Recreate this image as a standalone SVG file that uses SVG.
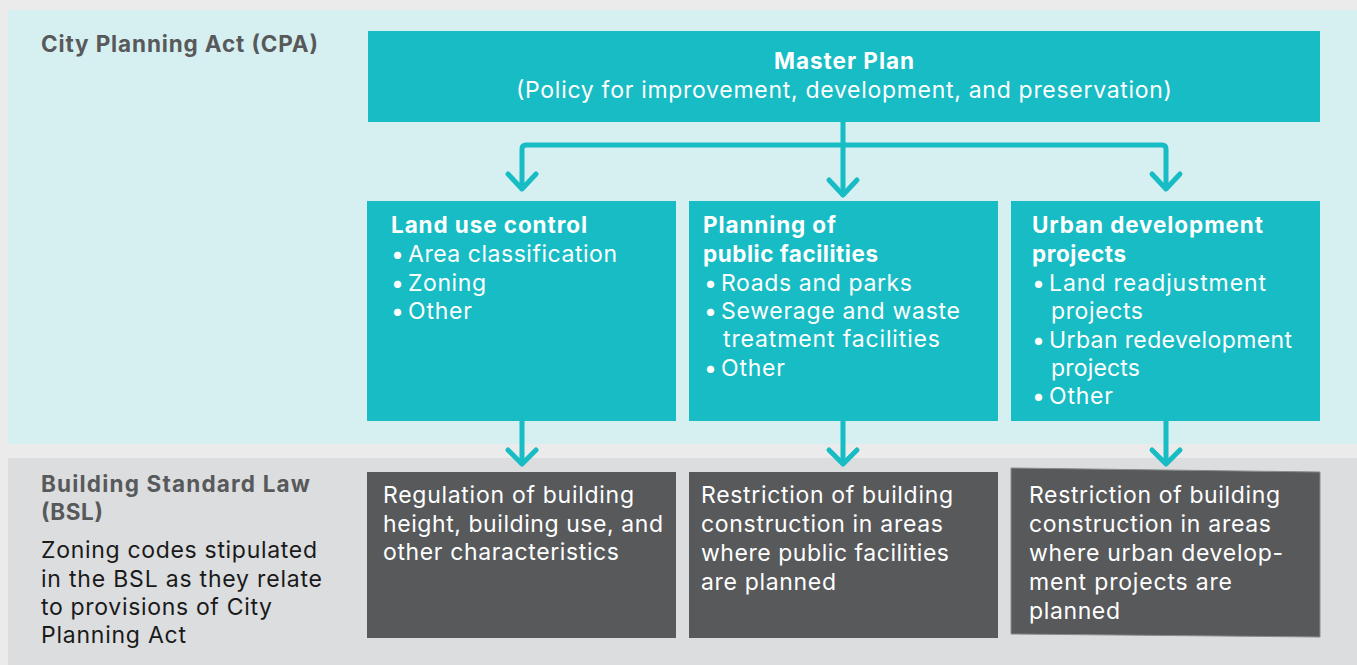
<svg xmlns="http://www.w3.org/2000/svg" width="1357" height="665" viewBox="0 0 1357 665">
<style>
text{font-family:Inter,"Noto Sans","Liberation Sans",sans-serif;font-size:23px}
.b{font-weight:bold;font-size:22.5px}
.w{fill:#ffffff}
.g{fill:#58595b}
.k{fill:#1a1a1a}
.teal{fill:#17bcc4}
.dark{fill:#58595b}
.con{fill:none;stroke:#17bcc4;stroke-width:5;stroke-linecap:round;stroke-linejoin:round}
</style>
<rect x="0" y="0" width="1357" height="665" fill="#ebebeb"/>
<g id="cpa-panel">
<rect x="8" y="10" width="1349" height="434" fill="#d6eff0"/>
<text x="41" y="52" class="b g" textLength="277">City Planning Act (CPA)</text>
</g>
<g id="bsl-panel">
<rect x="8" y="458" width="1349" height="207" fill="#dcdddf"/>
<text x="41" y="492" class="b g" textLength="269">Building Standard Law</text>
<text x="41" y="520" class="b g" textLength="62">(BSL)</text>
<text x="41" y="558" class="k" textLength="276">Zoning codes stipulated</text>
<text x="41" y="587" class="k" textLength="281">in the BSL as they relate</text>
<text x="41" y="615" class="k" textLength="231">to provisions of City</text>
<text x="41" y="643" class="k" textLength="145">Planning Act</text>
</g>
<g id="connectors">
<path class="con" d="M843,122 L843,194"/>
<path class="con" d="M522,188 L522,149 Q522,145 526,145 L1162,145 Q1166,145 1166,149 L1166,188"/>
<polyline class="con" points="508,174 522,189 536,174"/>
<polyline class="con" points="829,180 843,195 857,180"/>
<polyline class="con" points="1152,174 1166,189 1180,174"/>
<path class="con" d="M522,421 L522,463"/>
<path class="con" d="M843,421 L843,463"/>
<path class="con" d="M1166,421 L1166,463"/>
<polyline class="con" points="508,450 522,464 536,450"/>
<polyline class="con" points="829,450 843,464 857,450"/>
<polyline class="con" points="1152,450 1166,464 1180,450"/>
</g>
<g id="master-plan">
<rect x="368" y="31" width="952" height="91" class="teal"/>
<text x="844" y="69" class="b w" text-anchor="middle" textLength="140">Master Plan</text>
<text x="844" y="98" class="w" text-anchor="middle" textLength="656">(Policy for improvement, development, and preservation)</text>
</g>
<g id="land-use-control">
<rect x="367" y="201" width="309" height="220" class="teal"/>
<text x="391" y="233" class="b w" textLength="196">Land use control</text>
<text class="w" y="262"><tspan x="391">•</tspan><tspan x="408" textLength="209">Area classification</tspan></text>
<text class="w" y="291"><tspan x="391">•</tspan><tspan x="408" textLength="78">Zoning</tspan></text>
<text class="w" y="319"><tspan x="391">•</tspan><tspan x="408" textLength="64">Other</tspan></text>
</g>
<g id="public-facilities">
<rect x="689" y="201" width="309" height="220" class="teal"/>
<text x="703" y="233" class="b w" textLength="133">Planning of</text>
<text x="703" y="262" class="b w" textLength="175">public facilities</text>
<text class="w" y="291"><tspan x="704">•</tspan><tspan x="721" textLength="191">Roads and parks</tspan></text>
<text class="w" y="319"><tspan x="704">•</tspan><tspan x="721" textLength="239">Sewerage and waste</tspan></text>
<text x="723" y="347" class="w" textLength="217">treatment facilities</text>
<text class="w" y="376"><tspan x="704">•</tspan><tspan x="721" textLength="64">Other</tspan></text>
</g>
<g id="urban-development">
<rect x="1011" y="201" width="309" height="220" class="teal"/>
<text x="1032" y="233" class="b w" textLength="231">Urban development</text>
<text x="1032" y="262" class="b w" textLength="94">projects</text>
<text class="w" y="291"><tspan x="1032">•</tspan><tspan x="1049" textLength="217">Land readjustment</tspan></text>
<text x="1051" y="319" class="w" textLength="92">projects</text>
<text class="w" y="348"><tspan x="1032">•</tspan><tspan x="1049" textLength="243">Urban redevelopment</tspan></text>
<text x="1051" y="376" class="w" textLength="89">projects</text>
<text class="w" y="404"><tspan x="1032">•</tspan><tspan x="1049" textLength="64">Other</tspan></text>
</g>
<g id="bsl-regulation">
<rect x="367" y="472" width="309" height="166" class="dark"/>
<text x="383" y="503" class="w" textLength="251">Regulation of building</text>
<text x="383" y="532" class="w" textLength="280">height, building use, and</text>
<text x="383" y="560" class="w" textLength="236">other characteristics</text>
</g>
<g id="bsl-public-facilities">
<rect x="689" y="472" width="309" height="166" class="dark"/>
<text x="701" y="503" class="w" textLength="252">Restriction of building</text>
<text x="701" y="532" class="w" textLength="242">construction in areas</text>
<text x="701" y="561" class="w" textLength="248">where public facilities</text>
<text x="701" y="590" class="w" textLength="135">are planned</text>
</g>
<g id="bsl-urban-development">
<polygon points="1011,468 1320,472 1320,637 1011,634" class="dark" stroke="#8a8b8d" stroke-width="1"/>
<text x="1029" y="503" class="w" textLength="251">Restriction of building</text>
<text x="1029" y="532" class="w" textLength="242">construction in areas</text>
<text x="1029" y="561" class="w" textLength="254">where urban develop-</text>
<text x="1029" y="590" class="w" textLength="203">ment projects are</text>
<text x="1029" y="619" class="w" textLength="91">planned</text>
</g>
</svg>
